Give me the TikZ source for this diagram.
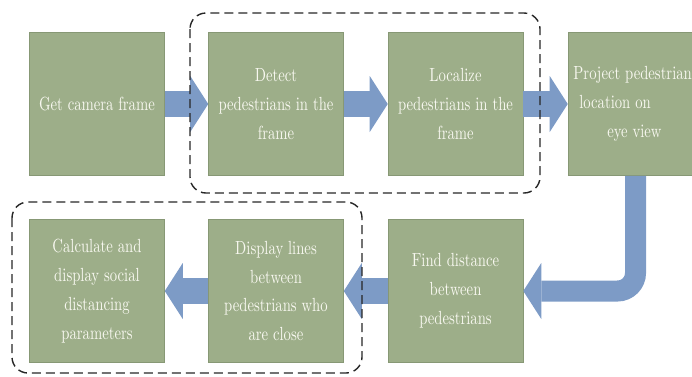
\documentclass[tikz,border=0pt]{standalone}
\usepackage{xcolor}
\definecolor{boxgreen}{RGB}{157,174,137}
\definecolor{boxedge}{RGB}{135,152,117}
\definecolor{flowblue}{RGB}{125,155,198}
\definecolor{boxtext}{RGB}{248,248,240}
\usepackage{tikz}
\usetikzlibrary{arrows.meta, positioning, calc}

\begin{document}
\begin{tikzpicture}[x=1pt, y=-1pt,
    stepbox/.style={draw=boxedge, fill=boxgreen, text=boxtext, xscale=1.47, yscale=1.9, minimum width=91.8pt, minimum height=75.3pt, inner sep=0pt, align=center, font=\fontsize{10}{15.26}\selectfont},
    flow/.style={draw=flowblue, line width=26pt, -{Triangle[length=18pt, width=56pt, line width=0pt]}},
    groupbox/.style={draw=black!85, line width=1.4pt, dash pattern=on 9pt off 5pt, rounded corners=16pt}]
    \useasboundingbox (0,0) rectangle (692,376);
    \clip (0,0) rectangle (692,376);

    % top row
    \node[stepbox] (frame) at (97,104) {Get camera frame};
    \node[stepbox] (detect) at (276,104) {Detect\\pedestrians in the\\frame};
    \node[stepbox] (localize) at (455.5,104) {Localize\\pedestrians in the\\frame};
    \node[stepbox, align=left, text width=84.4pt] (project) at (635.5,104) {Project pedestrian\\\hspace{4pt}location on\\\hspace{23pt}eye view};

    % bottom row
    \node[stepbox] (distance) at (455.5,291) {Find distance\\between\\pedestrians};
    \node[stepbox] (lines) at (276,291) {Display lines\\between\\pedestrians who\\are close};
    \node[stepbox] (social) at (97,291) {Calculate and\\display social\\distancing\\parameters};

    % block arrows
    \draw[flow] (frame.east) -- (detect.west);
    \draw[flow] (detect.east) -- (localize.west);
    \draw[flow] (localize.east) -- (project.west);
    \draw[flow, line width=21pt, rounded corners=18pt] (project.south) |- (distance.east);
    \draw[flow] (distance.west) -- (lines.east);
    \draw[flow] (lines.west) -- (social.east);

    % dashed groups
    \draw[groupbox] (190,13) rectangle (540,193);
    \draw[groupbox] (12,202) rectangle (362,373);
\end{tikzpicture}
\end{document}
